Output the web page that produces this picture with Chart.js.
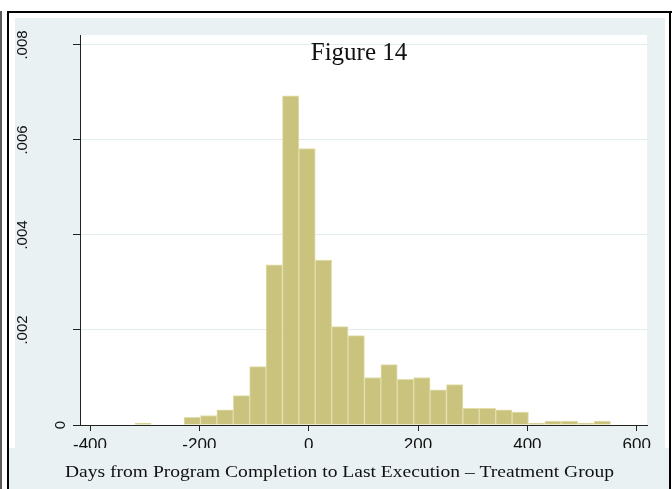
<!DOCTYPE html>
<html>
<head>
<meta charset="utf-8">
<script src="https://cdn.jsdelivr.net/npm/chart.js@4"></script>
<style>
  html, body { margin: 0; padding: 0; background: #ffffff; }
  #c { display: block; }
</style>
</head>
<body>
<canvas id="c" width="672" height="489"></canvas>
<script>
// ---- data ----
const binWidth = 30;
const binLefts = [-318, -288, -258, -228, -198, -168, -138, -108, -78, -48, -18, 12, 42, 72, 102,
                  132, 162, 192, 222, 252, 282, 312, 342, 372, 402, 432, 462, 492, 522];
const density = [0.00004, 0, 0, 0.00016, 0.00020, 0.00032, 0.00062, 0.00123, 0.00337, 0.00693,
                 0.00582, 0.00347, 0.00207, 0.00188, 0.00100, 0.00127, 0.00096, 0.00100, 0.00074,
                 0.00085, 0.00035, 0.00035, 0.00032, 0.00027, 0.00004, 0.00008, 0.00008, 0.00004, 0.00008];
const xTicks = [-400, -200, 0, 200, 400, 600];
const yTicks = [0, 0.002, 0.004, 0.006, 0.008];
const yTickLabels = ['0', '.002', '.004', '.006', '.008'];
const titleText = 'Figure 14';
const xTitleText = 'Days from Program Completion to Last Execution \u2013 Treatment Group';

const BLUISH = '#E9F1F3';
const SERIF = '"Liberation Serif", "DejaVu Serif", serif';
const SANS = '"Liberation Sans", Arial, sans-serif';

const framePlugin = {
  id: 'frame',
  beforeDraw(chart) {
    const ctx = chart.ctx;
    const a = chart.chartArea;
    ctx.save();
    ctx.fillStyle = '#ffffff';
    ctx.fillRect(0, 0, 672, 489);
    ctx.fillStyle = BLUISH;
    ctx.fillRect(15, 18, 650, 430);
    ctx.fillStyle = '#ffffff';
    ctx.fillRect(a.left, a.top, a.right - a.left, a.bottom - a.top);
    ctx.restore();
  },
  afterDraw(chart) {
    const ctx = chart.ctx;
    ctx.save();
    // bottom label box
    ctx.fillStyle = BLUISH;
    ctx.fillRect(9, 448, 660, 41);
    // x-axis title
    ctx.fillStyle = '#111111';
    ctx.font = '17px ' + SERIF;
    ctx.textAlign = 'center';
    ctx.textBaseline = 'alphabetic';
    const w = ctx.measureText(xTitleText).width;
    const sx = 549 / w;
    ctx.save();
    ctx.translate(339.5, 477);
    ctx.scale(sx, 1);
    ctx.fillText(xTitleText, 0, 0);
    ctx.restore();
    // title
    ctx.font = '25px ' + SERIF;
    ctx.fillText(titleText, 359, 60);
    // y tick labels (rotated)
    const ys = chart.scales.y;
    ctx.font = '15px ' + SANS;
    ctx.textBaseline = 'middle';
    yTicks.forEach((v, i) => {
      const y = ys.getPixelForValue(v);
      const lab = yTickLabels[i];
      const cx = lab.length > 1 ? 22 : 60;
      ctx.save();
      ctx.translate(cx, y);
      ctx.rotate(-Math.PI / 2);
      ctx.fillText(lab, 0, 1);
      ctx.restore();
    });
    // outer frame
    ctx.fillStyle = '#000000';
    ctx.fillRect(7, 11, 665, 2);
    ctx.fillRect(7, 11, 2, 478);
    ctx.fillRect(669, 11, 2, 478);
    ctx.fillStyle = '#5a5a5a';
    ctx.fillRect(0, 11, 2, 478);
    ctx.restore();
  }
};

new Chart(document.getElementById('c'), {
  type: 'bar',
  data: {
    datasets: [{
      data: binLefts.map((l, i) => ({ x: l + binWidth / 2, y: density[i] })),
      backgroundColor: '#CAC37E',
      borderColor: '#E2DEAC',
      borderWidth: 1,
      barPercentage: 1,
      categoryPercentage: 1
    }]
  },
  options: {
    responsive: false,
    devicePixelRatio: 1,
    animation: false,
    layout: { padding: { left: 0, top: 35, right: 25, bottom: 0 } },
    plugins: { legend: { display: false }, tooltip: { enabled: false }, title: { display: false } },
    scales: {
      x: {
        type: 'linear',
        offset: false,
        min: -418.3,
        max: 618.8,
        afterBuildTicks: (s) => { s.ticks = xTicks.map(v => ({ value: v })); },
        afterFit: (s) => { s.height = 64; },
        grid: { offset: false, drawOnChartArea: false, drawTicks: true, tickLength: 6, tickColor: '#222222' },
        border: { color: '#222222', width: 1 },
        ticks: {
          font: { family: SANS, size: 17 },
          color: '#111111',
          padding: 4,
          maxRotation: 0,
          minRotation: 0,
          callback: (v) => String(v)
        }
      },
      y: {
        min: 0,
        max: 0.0082105,
        afterBuildTicks: (s) => { s.ticks = yTicks.map(v => ({ value: v })); },
        afterFit: (s) => { s.width = 80; },
        grid: { color: '#E1ECEF', drawTicks: true, tickLength: 7, tickColor: '#222222' },
        border: { color: '#222222', width: 1 },
        ticks: { display: false }
      }
    }
  },
  plugins: [framePlugin]
});
</script>
</body>
</html>
